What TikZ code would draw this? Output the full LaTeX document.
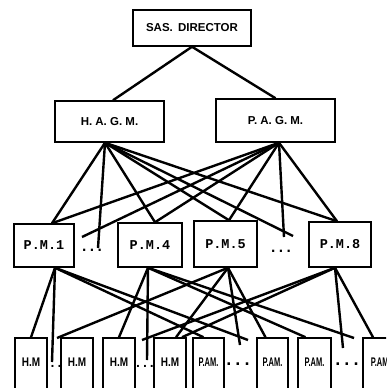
\documentclass[tikz,border=0pt]{standalone}
\usepackage{graphicx}
\usepackage{fontspec}
\setmainfont{Liberation Sans}
\newfontfamily\monof{Liberation Mono}
\newfontfamily\dotf{DejaVu Sans Mono}
\usetikzlibrary{calc}
\begin{document}
\begin{tikzpicture}[x=1pt,y=-1pt,
  box/.style={draw,line width=1.5pt,inner sep=0pt,rectangle},
  topbox/.style={box,font=\fontsize{11.5}{12}\selectfont\bfseries},
  pmbox/.style={box,font=\monof\fontsize{13.5}{13}\selectfont\bfseries},
  botbox/.style={box,text height=28.5pt,text depth=33.5pt,anchor=base,font=\fontsize{12.5}{13}\selectfont\bfseries},
  link/.style={line width=2.4pt},
  dotsmid/.style={inner sep=0pt,font=\dotf\fontsize{13}{13}\selectfont\bfseries},
  dotsbot/.style={inner sep=0pt,font=\dotf\fontsize{11.5}{12}\selectfont\bfseries},
  dotswide/.style={inner sep=0pt,font=\dotf\fontsize{15}{15}\selectfont\bfseries}
]
\useasboundingbox (0,0) rectangle (386,388);
\clip (0,0) rectangle (386,388);
\fill[white] (0,0) rectangle (386,388);

% top levels
\node[topbox,minimum width=118pt,minimum height=36pt] (sas) at (192,28) {SAS.\hspace{0.45em}DIRECTOR};
\node[topbox,minimum width=109pt,minimum height=41pt] (hagm) at (109.5,121.5) {H. A. G. M.};
\node[topbox,minimum width=119pt,minimum height=43pt] (pagm) at (275.5,120.5) {P. A. G. M.};

% project managers
\node[pmbox,minimum width=60pt,minimum height=43pt] (pm1) at (44,245.5) {P.M.1};
\node[pmbox,minimum width=64pt,minimum height=44pt] (pm4) at (150,245) {P.M.4};
\node[pmbox,minimum width=63pt,minimum height=46pt] (pm5) at (225.5,244) {P.M.5};
\node[pmbox,minimum width=62pt,minimum height=45pt] (pm8) at (340,244.5) {P.M.8};
\node[dotsmid] (dm1) at (92,250) {...};
\node[dotsmid] (dm2) at (281,251) {...};

% bottom row
\node[botbox,minimum width=32pt] (hm1) at (31,366.5) {\scalebox{0.8}[1]{H.M}};
\node[botbox,minimum width=32pt] (hm2) at (77,366.5) {\scalebox{0.8}[1]{H.M}};
\node[botbox,minimum width=32pt] (hm3) at (119,366.5) {\scalebox{0.8}[1]{H.M}};
\node[botbox,minimum width=32pt] (hm4) at (170,366.5) {\scalebox{0.8}[1]{H.M}};
\node[botbox,minimum width=31pt] (pam1) at (208.5,366.5) {\scalebox{0.6}[1]{P.AM.}};
\node[botbox,minimum width=31pt] (pam2) at (272.5,366.5) {\scalebox{0.6}[1]{P.AM.}};
\node[botbox,minimum width=33pt] (pam3) at (314.5,366.5) {\scalebox{0.6}[1]{P.AM.}};
\node[botbox,minimum width=34pt,anchor=base west] (pam4) at (362,366.5) {\hspace{2pt}\scalebox{0.6}[1]{P.AM.}\hspace{2pt}};
\node[dotsbot] (db1) at (56,366) {..};
\node[dotsbot] (db2) at (145,366) {...};
\node[dotswide] (db3) at (238,364) {...};
\node[dotswide] (db4) at (347,364) {...};

% anchor points
\coordinate (hagmT) at ($(hagm.north)+(3.5,0)$);
\coordinate (hagmB) at ($(hagm.south)+(-4.5,0)$);
\coordinate (pagmB) at ($(pagm.south)+(3.5,0)$);
\coordinate (pm1T) at ($(pm1.north)+(8,0)$);
\coordinate (pm4T) at ($(pm4.north)+(5,0)$);
\coordinate (pm5T) at ($(pm5.north)+(3.5,0)$);
\coordinate (pm8T) at ($(pm8.north)+(-3,0)$);
\coordinate (pm1B) at ($(pm1.south)+(11,0)$);
\coordinate (pm4B) at ($(pm4.south)+(-2,0)$);
\coordinate (pm5B) at ($(pm5.south)+(2.5,0)$);
\coordinate (pm8B) at ($(pm8.south)+(-5,0)$);
% free ends near the dots
\coordinate (dm1h) at (98,248);
\coordinate (dm1p) at (82,237);
\coordinate (dm2p) at (284,237);
\coordinate (dm2h) at (293,236);
\coordinate (db1v) at (52,362);
\coordinate (db1r) at (57,338);
\coordinate (db2v) at (147,360);
\coordinate (db2l) at (142,340);
\coordinate (db3v) at (240,345);
\coordinate (db3r) at (248,340);
\coordinate (db4v) at (343,348);
\coordinate (db4l) at (354,338);

% director
\draw[link] (sas.south) -- (hagmT);
\draw[link] (sas.south) -- (pagm.north);

% general managers to project managers
\foreach \t in {pm1T,dm1h,pm4T,pm5T,dm2h,pm8T} \draw[link] (hagmB) -- (\t);
\foreach \t in {pm1T,dm1p,pm4T,pm5T,dm2p,pm8T} \draw[link] (pagmB) -- (\t);

% project managers to bottom row
\draw[link] (pm1B) -- (hm1.north);
\draw[link] (pm1B) -- (db1v);
\draw[link] (pm1B) -- ($(pam1.north)+(-5,0)$);
\draw[link] (pm1B) -- (db3r);
\draw[link] (pm4B) -- (hm3.north);
\draw[link] (pm4B) -- (db2v);
\draw[link] (pm4B) -- ($(pam3.north)+(-9,0)$);
\draw[link] (pm4B) -- (db4l);
\draw[link] (pm5B) -- (db1r);
\draw[link] (pm5B) -- ($(hm4.north)+(6,0)$);
\draw[link] (pm5B) -- (db3v);
\draw[link] (pm5B) -- ($(pam2.north)+(-7,0)$);
\draw[link] (pm8B) -- (db2l);
\draw[link] (pm8B) -- ($(hm4.north)+(12,0)$);
\draw[link] (pm8B) -- (db4v);
\draw[link] (pm8B) -- ($(pam4.north west)+(11,0)$);
\end{tikzpicture}
\end{document}
